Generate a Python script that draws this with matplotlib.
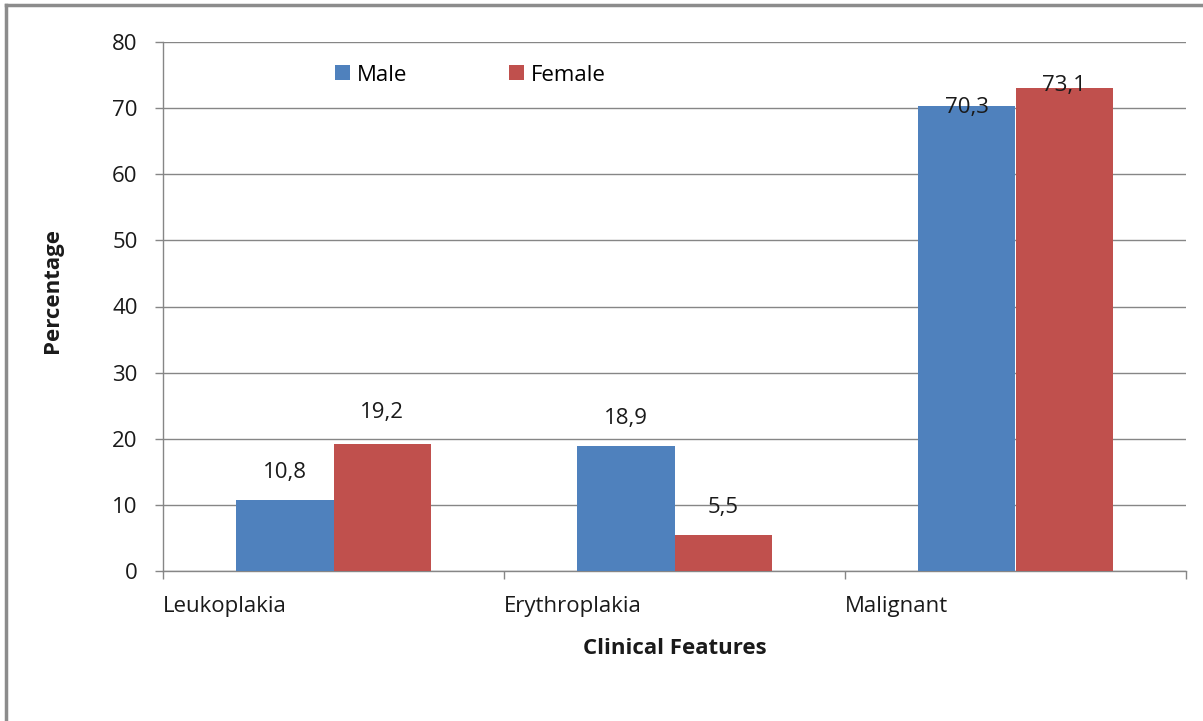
import matplotlib
matplotlib.use("Agg")
import matplotlib.pyplot as plt
from matplotlib.lines import Line2D
import matplotlib.transforms as mtrans
import numpy as np

categories = ["Leukoplakia", "Erythroplakia", "Malignant"]
male = [10.8, 18.9, 70.3]
female = [19.2, 5.5, 73.1]
series_names = ["Male", "Female"]
yticks = [0, 10, 20, 30, 40, 50, 60, 70, 80]

plt.rcParams['font.family'] = ['Open Sans', 'DejaVu Sans']

W, H = 1203, 721
fig = plt.figure(figsize=(W / 100, H / 100), dpi=100)
ax = fig.add_axes([163 / W, 1 - 571 / H, (1186 - 163) / W, (571 - 42) / H])

blue = "#4F81BD"
red = "#C0504D"
grid_c = "#868686"
txt_c = "#1a1a1a"
FS = 16

x = np.arange(len(categories))
w = 0.285
b1 = ax.bar(x - w / 2, male, w, color=blue, label=series_names[0], zorder=3)
b2 = ax.bar(x + w / 2, female, w, color=red, label=series_names[1], zorder=3)

# vertical offsets of the value labels (pixels above bar top)
offsets_m = [27, 28, -1]
offsets_f = [32, 27, 2]
for bars, vals, offs in ((b1, male, offsets_m), (b2, female, offsets_f)):
    for rect, v, o in zip(bars, vals, offs):
        ax.annotate(f"{v:.1f}".replace(".", ","), (rect.get_x() + rect.get_width() / 2, v),
                    xytext=(0, o * 0.72), textcoords="offset points", ha="center", va="center",
                    fontsize=FS, color=txt_c, zorder=5)

ax.set_xlim(-0.5, len(categories) - 0.5)
ax.set_ylim(0, 80)
ax.set_yticks(yticks)
ax.set_yticklabels([str(t) for t in yticks], fontsize=FS, color=txt_c)
ax.yaxis.grid(True, color=grid_c, linewidth=1, zorder=0)

bounds = np.arange(len(categories) + 1) - 0.5
ax.set_xticks(bounds)
ax.set_xticklabels(categories + [""], fontsize=FS, color=txt_c, ha="left")
offset = mtrans.ScaledTranslation(1 / 100, 0, fig.dpi_scale_trans)
for lab in ax.get_xticklabels():
    lab.set_transform(lab.get_transform() + offset)

ax.tick_params(axis="y", direction="out", length=5.8, width=1, color=grid_c, pad=12.5)
ax.tick_params(axis="x", direction="out", length=5.8, width=1, color=grid_c, pad=12)

for s in ["top", "right"]:
    ax.spines[s].set_visible(False)
for s in ["left", "bottom"]:
    ax.spines[s].set_color(grid_c)
    ax.spines[s].set_linewidth(1)

ax.set_xlabel("Clinical Features", fontsize=FS, fontweight="bold", labelpad=15.5, color=txt_c)
ax.set_ylabel("Percentage", fontsize=FS, fontweight="bold", color=txt_c)
ax.yaxis.set_label_coords(-0.0978, 0.531)

ax.legend(loc="center", bbox_to_anchor=(0.3006, 0.9376), ncol=2, frameon=False,
          fontsize=FS, handlelength=0.68, handleheight=0.68, handletextpad=0.3,
          columnspacing=4.6, borderpad=0, borderaxespad=0)

# outer chart border (top and left visible)
fig.add_artist(Line2D([6 / W, 6 / W], [0, 1 - 5 / H], transform=fig.transFigure,
                      color="#8c8c8c", linewidth=2.5))
fig.add_artist(Line2D([6 / W, 1], [1 - 5 / H, 1 - 5 / H], transform=fig.transFigure,
                      color="#8c8c8c", linewidth=2.5))

fig.savefig("out.png", dpi=100)
